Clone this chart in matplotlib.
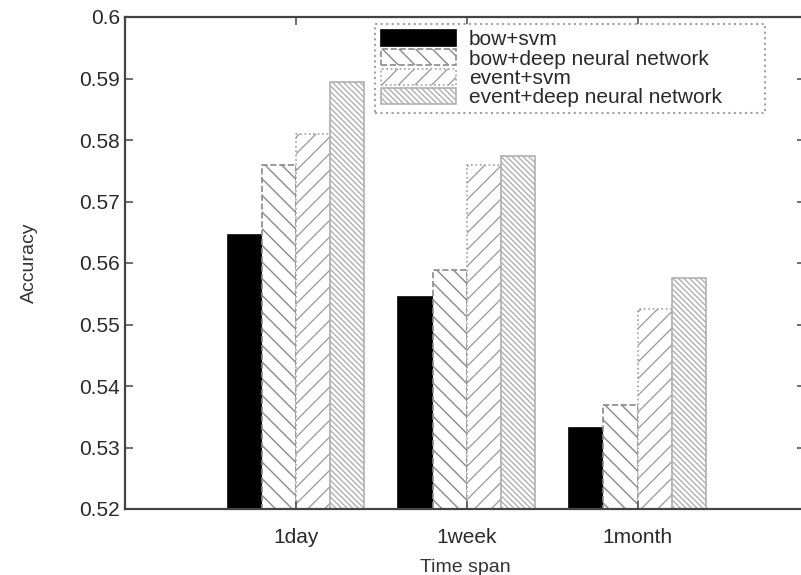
import numpy as np
import matplotlib.pyplot as plt

plt.rcParams["font.family"] = ["Liberation Sans", "DejaVu Sans"]
plt.rcParams["hatch.linewidth"] = 1.0

spans = ["1day", "1week", "1month"]
series_names = [
    "bow+svm",
    "bow+deep neural network",
    "event+svm",
    "event+deep neural network",
]
bow_svm = [0.5645, 0.5545, 0.5332]
bow_dnn = [0.5760, 0.5589, 0.5369]
event_svm = [0.5809, 0.5760, 0.5526]
event_dnn = [0.5894, 0.5774, 0.5576]

styles = [
    dict(facecolor="black", edgecolor="black", linestyle="-", hatch=None),
    dict(facecolor="white", edgecolor="#8a8a8a", linestyle="--", hatch="\\\\"),
    dict(facecolor="white", edgecolor="#a0a0a0", linestyle=":", hatch="//"),
    dict(facecolor="white", edgecolor="#b0b0b0", linestyle="-", hatch="\\\\\\\\\\\\"),
]

fig = plt.figure(figsize=(8.01, 5.75), dpi=100)
ax = fig.add_axes([125 / 801, 1 - 509 / 575, 680 / 801, 492 / 575])

x = np.arange(1, len(spans) + 1)
width = 0.2
offsets = [-1.5, -0.5, 0.5, 1.5]
for vals, name, st, off in zip([bow_svm, bow_dnn, event_svm, event_dnn],
                               series_names, styles, offsets):
    ax.bar(x + off * width, np.array(vals) - 0.52, width, bottom=0.52,
           facecolor=st["facecolor"], edgecolor=st["edgecolor"],
           linestyle=st["linestyle"], hatch=st["hatch"], linewidth=1.2,
           label=name)

ax.set_xlim(0.0, 3.98)
ax.set_ylim(0.52, 0.6)
ax.set_yticks(np.arange(0.52, 0.6001, 0.01))
ax.set_yticklabels(["0.52", "0.53", "0.54", "0.55", "0.56", "0.57", "0.58", "0.59", "0.6"])
ax.set_xticks(x)
ax.set_xticklabels(spans)
ax.tick_params(axis="both", direction="in", length=6, width=1.2, colors="#555555",
               labelcolor="#2a2a2a", labelsize=15, right=True, top=True)
ax.tick_params(axis="x", pad=14)
for sp in ax.spines.values():
    sp.set_color("#444444")
    sp.set_linewidth(1.6)

ax.set_xlabel("Time span", fontsize=14, color="#333333", labelpad=8)
ax.set_ylabel("Accuracy", fontsize=14, color="#333333", labelpad=30)

leg = ax.legend(loc="upper left",
                bbox_to_anchor=(375 / 801, 1 - 113 / 575, 390 / 801, 89 / 575),
                bbox_transform=fig.transFigure, mode="expand", fontsize=15,
                frameon=True, fancybox=False, borderpad=0.3, labelspacing=0.0,
                handlelength=3.6, handleheight=0.8, handletextpad=0.6,
                borderaxespad=0)
frame = leg.get_frame()
frame.set_edgecolor("#888888")
frame.set_linestyle(":")
frame.set_linewidth(1.5)
for t in leg.get_texts():
    t.set_color("#2a2a2a")

fig.savefig("out.png", dpi=100)
